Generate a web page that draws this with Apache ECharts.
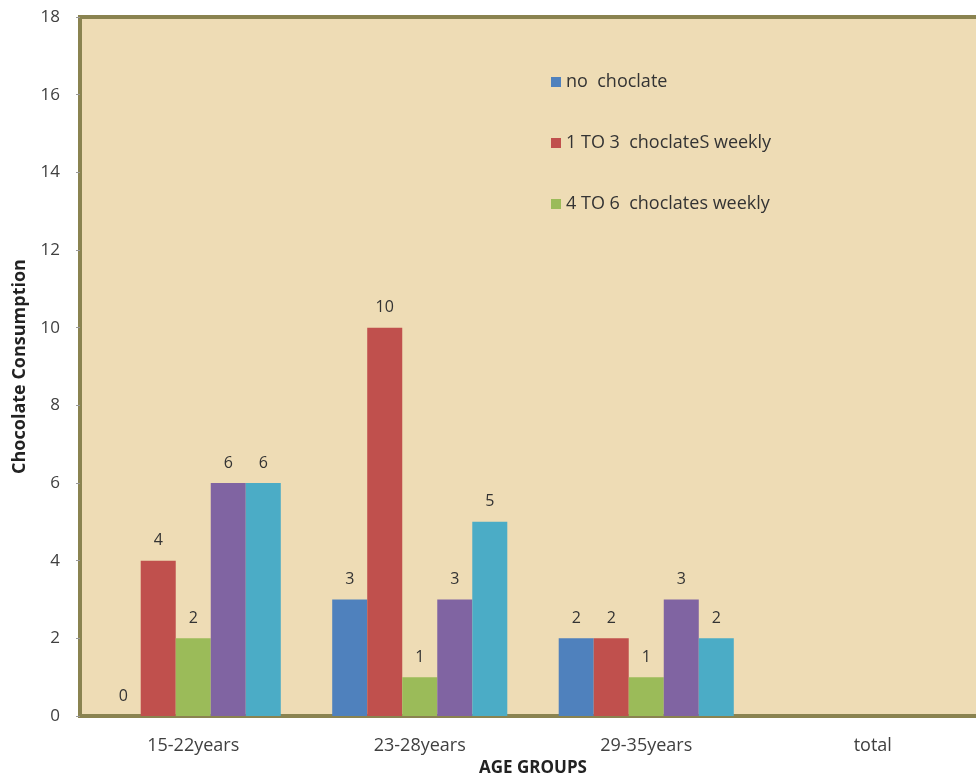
<!DOCTYPE html>
<html>
<head>
<meta charset="utf-8">
<script src="https://cdn.jsdelivr.net/npm/echarts@6/dist/echarts.min.js"></script>
<style>html,body{margin:0;padding:0;background:#fff;}#c{width:976px;height:774px;}</style>
</head>
<body>
<div id="c"></div>
<script>
const categories = ['15-22years', '23-28years', '29-35years', 'total'];
const noChocolate = [0, 3, 2, null];
const oneToThree = [4, 10, 2, null];
const fourToSix = [2, 1, 1, null];
const seriesFour = [6, 3, 3, null];
const seriesFive = [6, 5, 2, null];
const seriesNames = ['no  choclate', '1 TO 3  choclateS weekly', '4 TO 6  choclates weekly', 'series4', 'series5'];
const legendNames = ['no  choclate', '1 TO 3  choclateS weekly', '4 TO 6  choclates weekly'];
const yTicks = [0, 2, 4, 6, 8, 10, 12, 14, 16, 18];

const colors = ['#4F81BD', '#C0504D', '#9BBB59', '#8064A2', '#4BACC6'];
const values = [noChocolate, oneToThree, fourToSix, seriesFour, seriesFive];
const font = 'Open Sans';

const chart = echarts.init(document.getElementById('c'));
chart.setOption({
  animation: false,
  color: colors,
  textStyle: { fontFamily: font },
  grid: {
    left: 80, top: 17, width: 906, bottom: 58,
    outerBoundsMode: 'none',
    containLabel: false,
    show: true, backgroundColor: '#EEDCB5', borderColor: '#8A8350', borderWidth: 4
  },
  legend: {
    data: legendNames,
    orient: 'vertical',
    left: 546, top: 68,
    itemWidth: 10, itemHeight: 10, itemGap: 43,
    icon: 'rect',
    textStyle: { fontFamily: font, fontSize: 18, color: '#333' }
  },
  xAxis: {
    type: 'category',
    data: categories,
    axisLine: { show: true, lineStyle: { color: '#8A8350', width: 4 } },
    axisTick: { show: false },
    axisLabel: { fontFamily: font, fontSize: 18, color: '#404040', margin: 21 },
    name: 'AGE GROUPS',
    nameLocation: 'middle',
    nameGap: 42,
    nameTextStyle: { fontFamily: font, fontSize: 17, fontWeight: 'bold', color: '#222' }
  },
  yAxis: {
    type: 'value',
    min: yTicks[0], max: yTicks[yTicks.length - 1], interval: 2,
    splitLine: { show: false },
    axisLine: { show: false },
    axisTick: { show: true, length: 4, lineStyle: { color: '#999' } },
    axisLabel: { fontFamily: font, fontSize: 17, color: '#404040', margin: 20 },
    name: 'Chocolate Consumption',
    nameLocation: 'middle',
    nameGap: 51,
    nameTextStyle: { fontFamily: font, fontSize: 18, fontWeight: 'bold', color: '#222' }
  },
  series: values.map((v, i) => ({
    name: seriesNames[i],
    type: 'bar',
    data: v,
    barGap: '0%',
    barCategoryGap: '22.7%',
    itemStyle: { color: colors[i] },
    label: { show: true, position: 'top', distance: 12, fontFamily: font, fontSize: 16, color: '#333' }
  }))
});
</script>
</body>
</html>
